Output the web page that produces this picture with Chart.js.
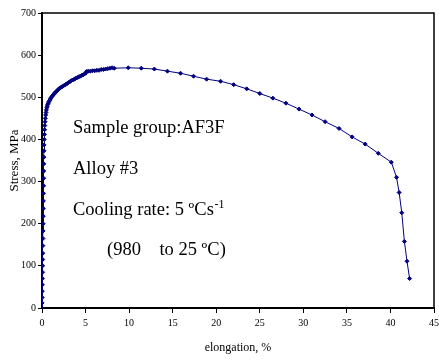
<!DOCTYPE html>
<html>
<head>
<meta charset="utf-8">
<script src="https://cdn.jsdelivr.net/npm/chart.js@4/dist/chart.umd.min.js"></script>
<style>
html,body{margin:0;padding:0;background:#fff;}
#wrap{width:439px;height:360px;}
</style>
</head>
<body>
<div id="wrap"><canvas id="c" width="439" height="360"></canvas></div>
<script>
const elongation = [0,0.01,0.02,0.03,0.04,0.05,0.06,0.07,0.08,0.09,0.10,0.11,0.12,0.13,0.14,0.15,0.16,0.17,0.18,0.19,0.20,0.21,0.22,0.23,0.24,0.26,0.28,0.30,0.32,0.35,0.38,0.42,0.46,0.50,0.55,0.60,0.66,0.72,0.80,0.88,0.96,1.05,1.15,1.25,1.35,1.45,1.55,1.65,1.75,1.85,1.95,2.05,2.15,2.30,2.45,2.60,2.75,2.90,3.05,3.20,3.35,3.50,3.65,3.80,3.95,4.10,4.25,4.40,4.55,4.70,4.85,5.00,5.10,5.30,5.55,5.80,6.05,6.30,6.55,6.80,7.05,7.30,7.55,7.80,8.05,8.30,9.9,11.4,12.9,14.4,15.9,17.4,18.9,20.5,22.0,23.5,25.0,26.5,28.0,29.5,31.0,32.5,34.1,35.6,37.1,38.6,40.1,40.7,41.0,41.3,41.6,41.9,42.2];
const stress = [0,12,25,40,55,70,85,100,115,130,148,165,183,200,218,236,254,272,290,308,325,342,358,373,387,400,412,423,433,442,450,458,464,470,475,479,483,486,490,493,496,499,502,505,507,510,512,514,516,518,520,522,523,525,527,529,531,533,535,537,539,541,542,544,546,547,549,550,552,553,555,557,561,562,562,563,563,564,564,566,566,567,568,569,570,569,570,569,567,562,557,550,543,538,530,520,509,498,486,472,458,442,426,406,389,367,346,310,274,226,158,111,70];
const xTicks = [0,5,10,15,20,25,30,35,40,45];
const yTicks = [0,100,200,300,400,500,600,700];
const notes = ["Sample group:AF3F", "Alloy #3", "Cooling rate: 5 ºCs", "(980    to 25 ºC)"];

const pts = elongation.map((x,i)=>({x:x,y:stress[i]}));
const serif = "'Liberation Serif','Times New Roman',serif";

const frame = {
  id:'frame',
  afterDraw(chart){
    const {ctx, chartArea:a} = chart;
    ctx.save();
    ctx.strokeStyle='#000';
    ctx.lineWidth=1.5;
    ctx.beginPath();
    ctx.moveTo(a.left, a.top); ctx.lineTo(a.right, a.top); ctx.lineTo(a.right, a.bottom);
    ctx.stroke();
    ctx.fillStyle='#000';
    ctx.font = "18.5px " + serif;
    ctx.textBaseline='alphabetic';
    ctx.fillText(notes[0], 73, 133);
    ctx.fillText(notes[1], 73, 174);
    ctx.fillText(notes[2], 73, 215);
    const w = ctx.measureText(notes[2]).width;
    ctx.font = "12px " + serif;
    ctx.fillText("-1", 73 + w + 0.5, 208);
    ctx.font = "18.5px " + serif;
    ctx.fillText(notes[3], 107, 255);
    ctx.restore();
  }
};

new Chart(document.getElementById('c'), {
  type:'scatter',
  data:{datasets:[{
    data:pts,
    showLine:true,
    borderColor:'#000080',
    backgroundColor:'#000080',
    borderWidth:1,
    pointStyle:'rectRot',
    pointRadius:2,
    pointBorderWidth:1,
    tension:0
  }]},
  options:{
    responsive:false,
    animation:false,
    plugins:{legend:{display:false}, tooltip:{enabled:false}},
    layout:{padding:{left:0,right:5,top:13,bottom:0}},
    scales:{
      x:{
        type:'linear', min:0, max:45,
        afterFit(s){ s.height = 52; s.paddingRight = 0; s.paddingLeft = 0; },
        afterBuildTicks(s){ s.ticks = xTicks.map(v=>({value:v})); },
        grid:{drawOnChartArea:false, drawTicks:true, tickLength:5, color:'#000', lineWidth:1},
        border:{display:true, color:'#000', width:2},
        ticks:{color:'#000', font:{family:serif, size:10}, padding:4, maxRotation:0},
        title:{display:true, text:'elongation, %', color:'#000', font:{family:serif, size:12}, padding:{top:2,bottom:5}}
      },
      y:{
        type:'linear', min:0, max:700,
        afterFit(s){ s.width = 42; s.paddingTop = 0; s.paddingBottom = 0; },
        afterBuildTicks(s){ s.ticks = yTicks.map(v=>({value:v})); },
        grid:{drawOnChartArea:false, drawTicks:true, tickLength:4, color:'#000', lineWidth:1},
        border:{display:true, color:'#000', width:2},
        ticks:{color:'#000', font:{family:serif, size:10}, padding:2},
        title:{display:true, text:'Stress, MPa', color:'#000', font:{family:serif, size:13}, padding:{top:7,bottom:4}}
      }
    }
  },
  plugins:[frame]
});
</script>
</body>
</html>
